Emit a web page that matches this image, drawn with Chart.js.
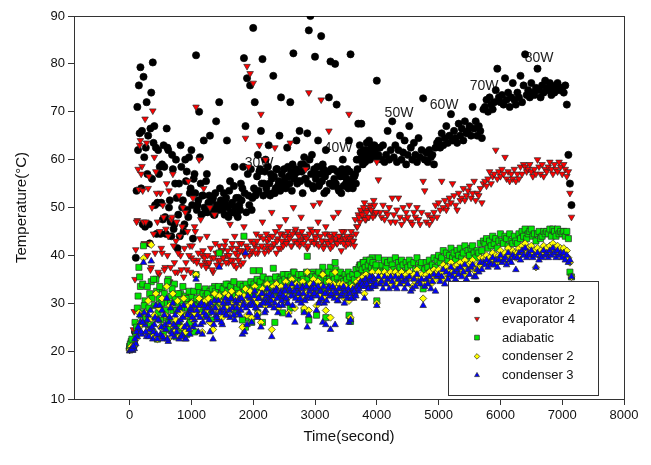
<!DOCTYPE html>
<html>
<head>
<meta charset="utf-8">
<script src="https://cdn.jsdelivr.net/npm/chart.js@4.4.0/dist/chart.umd.min.js"></script>
<style>
  body { margin: 0; background: #fff; }
  #wrap { width: 651px; height: 465px; }
</style>
</head>
<body>
<div id="wrap"><canvas id="tempChart" width="651" height="465"></canvas></div>
<script>
// DATA (one reading every 25 s)
const timeSec = [
  0, 25, 50, 75, 100, 125, 150, 175, 200, 225,
  250, 275, 300, 325, 350, 375, 400, 425, 450, 475,
  500, 525, 550, 575, 600, 625, 650, 675, 700, 725,
  750, 775, 800, 825, 850, 875, 900, 925, 950, 975,
  1000, 1025, 1050, 1075, 1100, 1125, 1150, 1175, 1200, 1225,
  1250, 1275, 1300, 1325, 1350, 1375, 1400, 1425, 1450, 1475,
  1500, 1525, 1550, 1575, 1600, 1625, 1650, 1675, 1700, 1725,
  1750, 1775, 1800, 1825, 1850, 1875, 1900, 1925, 1950, 1975,
  2000, 2025, 2050, 2075, 2100, 2125, 2150, 2175, 2200, 2225,
  2250, 2275, 2300, 2325, 2350, 2375, 2400, 2425, 2450, 2475,
  2500, 2525, 2550, 2575, 2600, 2625, 2650, 2675, 2700, 2725,
  2750, 2775, 2800, 2825, 2850, 2875, 2900, 2925, 2950, 2975,
  3000, 3025, 3050, 3075, 3100, 3125, 3150, 3175, 3200, 3225,
  3250, 3275, 3300, 3325, 3350, 3375, 3400, 3425, 3450, 3475,
  3500, 3525, 3550, 3575, 3600, 3625, 3650, 3675, 3700, 3725,
  3750, 3775, 3800, 3825, 3850, 3875, 3900, 3925, 3950, 3975,
  4000, 4025, 4050, 4075, 4100, 4125, 4150, 4175, 4200, 4225,
  4250, 4275, 4300, 4325, 4350, 4375, 4400, 4425, 4450, 4475,
  4500, 4525, 4550, 4575, 4600, 4625, 4650, 4675, 4700, 4725,
  4750, 4775, 4800, 4825, 4850, 4875, 4900, 4925, 4950, 4975,
  5000, 5025, 5050, 5075, 5100, 5125, 5150, 5175, 5200, 5225,
  5250, 5275, 5300, 5325, 5350, 5375, 5400, 5425, 5450, 5475,
  5500, 5525, 5550, 5575, 5600, 5625, 5650, 5675, 5700, 5725,
  5750, 5775, 5800, 5825, 5850, 5875, 5900, 5925, 5950, 5975,
  6000, 6025, 6050, 6075, 6100, 6125, 6150, 6175, 6200, 6225,
  6250, 6275, 6300, 6325, 6350, 6375, 6400, 6425, 6450, 6475,
  6500, 6525, 6550, 6575, 6600, 6625, 6650, 6675, 6700, 6725,
  6750, 6775, 6800, 6825, 6850, 6875, 6900, 6925, 6950, 6975,
  7000, 7025, 7050, 7075, 7100, 7125, 7150
];

// extra readings in the noisy first hour (between the 25 s marks)
const timeSecB = [
  12, 37, 62, 87, 112, 137, 162, 187, 212, 237,
  262, 287, 312, 337, 362, 387, 412, 437, 462, 487,
  512, 537, 562, 587, 612, 637, 662, 687, 712, 737,
  762, 787, 812, 837, 862, 887, 912, 937, 962, 987,
  1012, 1037, 1062, 1087, 1112, 1137, 1162, 1187, 1212, 1237,
  1262, 1287, 1312, 1337, 1362, 1387, 1412, 1437, 1462, 1487,
  1512, 1537, 1562, 1587, 1612, 1637, 1662, 1687, 1712, 1737,
  1762, 1787, 1812, 1837, 1862, 1887, 1912, 1937, 1962, 1987,
  2012, 2037, 2062, 2087, 2112, 2137, 2162, 2187, 2212, 2237,
  2262, 2287, 2312, 2337, 2362, 2387, 2412, 2437, 2462, 2487,
  2512, 2537, 2562, 2587, 2612, 2637, 2662, 2687, 2712, 2737,
  2762, 2787, 2812, 2837, 2862, 2887, 2912, 2937, 2962, 2987,
  3012, 3037, 3062, 3087, 3112, 3137, 3162, 3187, 3212, 3237,
  3262, 3287, 3312, 3337, 3362, 3387, 3412, 3437, 3462, 3487,
  3512, 3537, 3562, 3587, 3612, 3637, 3662, 3687, 3712, 3737,
  3762, 3787, 3812, 3837, 3862, 3887, 3912, 3937, 3962, 3987
];

const evaporator2 = [
  20.5, 21.2, 20.8, 21.5, 39.5, 71, 75.5, 79.3, 66, 77.3,
  46, 72, 65, 42.5, 74, 80.3, 67, 62.5, 51, 57,
  44.5, 59, 63, 48, 66.5, 62, 51.5, 44, 58, 46.5,
  60, 41.5, 55, 63, 50, 45, 60, 57.5, 48, 53,
  62, 43.5, 57, 81.8, 50.5, 70, 55, 52.5, 64, 49,
  57, 51, 65, 49.5, 52, 48.5, 68, 50, 72, 51.5,
  49.5, 53, 51, 64, 48, 55.5, 50.5, 49, 58.5, 52,
  48, 50.5, 55, 54, 81.2, 67, 77, 52.5, 75.5, 49.5,
  87.5, 72, 53, 61, 57.5, 66, 81, 55, 60, 53,
  63, 52.5, 56, 77.5, 53, 58, 54.5, 65, 73, 55,
  58, 54, 62.5, 56.5, 72, 53.5, 82.2, 57, 64, 55.5,
  66, 59, 53, 60.5, 56, 65.5, 87, 90, 61, 54,
  81.5, 57, 64, 55, 85.8, 59, 53, 62, 57.5, 73,
  80.5, 55, 58, 80, 71.5, 54, 57, 53, 60, 56.5,
  55, 58, 64, 82, 54.5, 56.5, 57, 60, 67.5, 63,
  67.5, 59, 61, 62, 60, 64, 61.5, 63, 60.5, 62,
  76.5, 61, 62.5, 60, 63, 59.5, 61, 66, 60, 62,
  68, 60.5, 63, 59.5, 62, 65, 60, 61.5, 64, 59,
  61, 67, 62.5, 60, 63.5, 61, 59.5, 64.5, 60.5, 62,
  72.8, 60, 61.5, 59.5, 62, 60.5, 61, 59, 62.5, 63.5,
  64, 62.5, 65.5, 63, 64.5, 67, 63.5, 65, 69.5, 64,
  66, 64.5, 63.5, 67.5, 65, 66.5, 64, 68, 65.5, 66,
  67, 65, 71, 66.5, 68, 65, 67, 66, 64.5, 70.5,
  71, 72.5, 70, 73, 71.5, 70.5, 72, 74.5, 79, 73,
  72, 73.5, 71.5, 77, 72.5, 74, 71, 73, 76, 72.5,
  71.5, 74, 73, 77.5, 72, 75.5, 82, 73.5, 74.5, 73,
  76, 74, 73.5, 75, 79, 74.5, 73, 75.5, 74, 76.5,
  75, 74.5, 76, 73.5, 75, 74, 75.5, 76, 74.5, 75,
  75, 74, 75.5, 71.5, 61, 55, 50.5
];
const evaporator2B = [
  21, 20.6, 20.9, 24, 53.5, 62, 65.5, 54, 46.5, 60.5,
  62.5, 57, 46.5, 66.5, 56, 63.5, 50.5, 44.5, 62, 58.5,
  51, 47.5, 58.5, 44.5, 62.5, 50, 47, 61, 45.5, 55,
  52, 48.5, 44, 58.5, 51.5, 46.5, 55.5, 49.5, 60.5, 54,
  50.5, 56, 53, 49.5, 51.5, 60.5, 48.5, 52.5, 50, 55.5,
  49, 52.5, 50, 51.5, 48.5, 53, 50.5, 49.5, 54, 51,
  50.5, 48.5, 52, 50, 53.5, 49, 51, 54.5, 50, 48.5,
  52, 49.5, 51.5, 58.5, 53, 49, 57, 50.5, 58, 52,
  54, 52.5, 56.5, 53.5, 58, 55, 52.5, 57.5, 54, 58.5,
  55, 57, 53, 56.5, 54, 58, 55.5, 53.5, 57, 54.5,
  56, 54.5, 58.5, 55, 57.5, 59, 56, 58, 55, 57.5,
  55.5, 57.5, 59, 56, 58.5, 55, 60, 57, 54.5, 58,
  56, 58.5, 54.5, 57, 55.5, 58, 56.5, 53.5, 57.5, 55,
  58, 54.5, 56, 55, 57.5, 53.5, 56.5, 58, 54.5, 57,
  56, 54, 57.5, 55.5, 54, 56.5, 55, 58, 60, 61.5,
  60.5, 62, 59.5, 63.5, 61, 60, 62.5, 61.5, 63, 60.5
];

const evaporator4 = [
  20.3, 20.8, 21, 28.3, 41.2, 47.3, 53.8, 64, 58.6, 47,
  68.5, 63.5, 54, 42.5, 37.5, 70.2, 60.5, 57.5, 47, 36,
  53, 40.5, 48, 37.5, 55, 44, 34.5, 47.5, 57, 38.5,
  43, 36.5, 52.5, 40, 46, 35.5, 49, 37, 55.5, 42,
  39.5, 52, 46, 71, 39, 60, 47.5, 40, 54, 38.5,
  44, 38, 50, 39.5, 36.5, 48.5, 40.5, 39, 42, 38,
  41, 39.5, 43, 40, 38.5, 46.5, 41.5, 39, 44, 37.5,
  40, 42.5, 38, 41, 46, 64.5, 79.5, 58.5, 78, 40.5,
  76, 42, 44.5, 40.5, 63, 69.5, 47, 41.5, 60, 43,
  41, 44, 49, 42, 62.5, 40.5, 43.5, 46, 41.5, 44.5,
  42.5, 47.5, 43, 44, 63.5, 42, 50, 45, 43, 44.5,
  42, 48, 43.5, 44, 58, 41.5, 74, 45.5, 43, 50.5,
  44, 42.5, 47, 51, 72.5, 43, 42, 46, 44.5, 66,
  41.5, 44, 48, 43, 42.5, 49, 44, 41, 43.5, 45,
  42, 43.5, 69.5, 42.5, 44, 43, 47.5, 46, 48.5, 47,
  49, 48, 51, 47.5, 49.5, 48, 50.5, 49, 51.5, 48.5,
  59.5, 55.8, 49, 48, 50.5, 47.5, 49, 48.5, 50, 47,
  52, 48.5, 47, 49.5, 52, 48, 46.5, 50, 47.5, 49,
  48, 50.5, 47, 46.5, 49, 48, 50, 47.5, 46.5, 49,
  55.5, 53.5, 47, 48.5, 46.5, 48, 47.5, 49, 50.5, 48,
  51, 49.5, 55.5, 50, 51.5, 49.5, 50.5, 52, 51, 55,
  52.5, 50.5, 49.5, 53, 51.5, 52, 54, 51.5, 52.5, 53.5,
  54.5, 52, 53, 55.5, 51.5, 53, 52.5, 54, 51, 55,
  55.5, 54.5, 56, 57.5, 55, 56.5, 57, 62, 56, 57.5,
  56.5, 58, 57, 60.5, 56, 57.5, 55.5, 57, 56, 58,
  55.5, 57, 56, 58.5, 57, 59, 58.5, 57.5, 58, 59,
  57.5, 56.5, 58, 57, 60, 58.5, 57, 59, 56.5, 58,
  57.5, 58.5, 59.5, 58, 57, 59, 58, 57.5, 59.5, 58.5,
  57, 59, 58, 56.5, 57.5, 53, 48
];
const evaporator4B = [
  20.6, 21.2, 24.5, 35, 47, 58, 63, 57, 53.5, 42.5,
  47, 40, 56.5, 37, 50, 44.5, 40.5, 53, 36.5, 45,
  41.5, 50.5, 37, 45.5, 40, 53.5, 37.5, 48, 42, 36.5,
  47, 40.5, 44, 37, 50, 41.5, 38.5, 45, 40, 36.5,
  42, 39, 45, 38.5, 40.5, 43.5, 38, 41, 39.5, 37.5,
  40, 38.5, 41.5, 37, 39.5, 42.5, 38, 40.5, 39, 41,
  39.5, 42, 38.5, 41, 40, 39, 42.5, 38, 40.5, 41.5,
  39, 41, 42.5, 38.5, 40, 42, 41.5, 40, 43, 41,
  42.5, 40.5, 43, 41.5, 44, 42, 43.5, 40.5, 44.5, 42,
  43.5, 41.5, 44, 42.5, 45, 43, 41.5, 44.5, 43, 42,
  44, 42.5, 45, 43.5, 42, 44.5, 43, 45.5, 42.5, 44,
  43, 45, 42.5, 44, 43.5, 42, 44.5, 43, 45, 42.5,
  43.5, 45, 42, 44, 43, 41.5, 44.5, 43, 42.5, 44,
  43, 42, 44.5, 43.5, 42.5, 44, 43, 45, 42.5, 43.5,
  44, 42.5, 43.5, 45, 43, 42, 44.5, 46, 48, 49.5,
  48.5, 50, 47.5, 49, 48, 50, 49.5, 48, 50.5, 49
];

const adiabatic = [
  21, 22, 20.5, 21.5, 23.5, 29, 37.5, 33.5, 28, 42,
  30.5, 27, 25.5, 32, 34.5, 24, 29.5, 35, 22.5, 31,
  26.5, 33, 23.5, 30, 27, 35, 24.5, 31.5, 28.5, 34,
  23, 30, 26, 32, 24.5, 29, 31.5, 23.5, 30.5, 27,
  31.5, 28.5, 24, 36, 30, 32.5, 29, 27.5, 31, 33,
  30, 28, 32.5, 26.5, 31, 33.5, 29.5, 30, 40.5, 32,
  31, 33.5, 29.5, 32, 34, 30.5, 33, 31.5, 28.5, 32.5,
  30, 33.5, 31, 26.5, 44, 25, 32, 27, 33.5, 26,
  36.8, 31.5, 34, 28, 36.8, 32.5, 26, 34.5, 31, 33,
  35, 32, 33.5, 37.3, 26, 34, 31.5, 35.5, 33, 28,
  34, 36, 32.5, 35.5, 29, 34.5, 36.5, 33, 35, 32,
  35.5, 33.5, 36, 28.5, 34, 39.8, 26.5, 35, 33, 36.5,
  34.5, 27.5, 36, 33, 35, 37.5, 32.5, 27, 34.5, 36,
  37.5, 33.5, 35.5, 38.5, 34, 32.5, 36, 34.5, 35, 33,
  35.5, 34, 27.5, 26.2, 36, 34.5, 35, 37, 36.5, 38,
  37.5, 38.5, 36.5, 39, 37, 38, 36.5, 39.5, 38, 37,
  30.5, 39.5, 37.5, 38, 36.5, 39, 37.5, 38.5, 36, 39,
  38, 37, 39.5, 36.5, 38.5, 37.5, 39, 38, 36.5, 38.5,
  37.5, 39, 38, 36, 38.5, 37, 39.5, 38, 37.5, 38.5,
  33, 37, 38.5, 37.5, 39, 36.5, 38, 39.5, 37.5, 39,
  40, 38.5, 39.5, 41, 38, 40.5, 39, 40, 41.5, 39.5,
  40.5, 39, 41, 40, 41.5, 39.5, 40.5, 42, 39, 41,
  40, 41.5, 42, 40.5, 39.5, 41, 40.5, 42.5, 41, 43,
  42.5, 43.5, 41.5, 43, 42, 44, 42.5, 43.5, 41.5, 43,
  44.5, 43, 42.5, 44, 43.5, 42, 44.5, 43, 42.5, 44,
  43, 42.5, 44.5, 43.5, 45, 44, 45.5, 43.5, 44.5, 45,
  45.5, 44, 44.5, 43, 44.5, 45, 43.5, 44, 45, 44.5,
  45, 44.5, 45.5, 44, 45.5, 45, 44, 45.5, 44.5, 45,
  44.5, 45, 44, 45, 43.5, 36.5, 35.5
];
const adiabaticB = [
  21.5, 22.5, 21, 26, 25, 31.5, 35.5, 27.5, 34, 29.5,
  27, 33.5, 29, 25.5, 31, 35, 27, 32.5, 28, 33.5,
  30, 25, 32, 28.5, 34.5, 26.5, 30, 33, 25.5, 31,
  28.5, 32, 25, 30.5, 33.5, 27.5, 31, 29, 32.5, 26,
  30, 32.5, 29.5, 31, 33.5, 30.5, 28, 32, 30, 31.5,
  32, 29.5, 31, 33, 30, 32.5, 31.5, 33.5, 30.5, 32,
  33, 31.5, 34, 32.5, 30.5, 33.5, 32, 34.5, 31.5, 33,
  32, 34, 31.5, 33.5, 32.5, 34, 33, 31.5, 34.5, 33,
  34, 32.5, 35, 33.5, 34.5, 32, 35.5, 33.5, 34, 35,
  33.5, 35, 34, 32.5, 35.5, 34, 33, 35, 34.5, 36,
  35, 33.5, 36, 34.5, 35.5, 33, 36.5, 35, 34, 36,
  34.5, 36, 35, 33.5, 36.5, 35, 34, 36, 35.5, 34,
  35.5, 34, 36.5, 35, 33.5, 36, 35, 34.5, 36.5, 35,
  34.5, 36, 35, 37, 35.5, 34, 36.5, 35, 34.5, 36,
  35, 36.5, 35.5, 34, 36, 35, 37, 36, 37.5, 38,
  37, 38.5, 37.5, 36.5, 38, 39, 37.5, 38.5, 37, 38
];

const condenser2 = [
  20.2, 21, 20.6, 21.2, 22.5, 24, 28, 26, 25.5, 39.4,
  28, 24, 30.5, 26.5, 42.2, 23, 27.5, 32, 22.5, 29,
  25, 31, 23, 27.5, 33.5, 22.5, 29.5, 25.5, 32, 24,
  26.5, 30.5, 23, 28, 25, 31, 24, 27.5, 29.5, 24.5,
  30, 26.5, 28, 36, 29, 31, 27.5, 24, 29.5, 30.5,
  28.5, 31, 26, 30, 24.5, 32, 29, 28, 31.5, 30,
  27, 30.5, 32, 29, 31.5, 28.5, 32.5, 30, 27.5, 31,
  29.5, 32, 30, 25, 31.5, 33, 27.5, 30.5, 32.5, 27,
  31, 33.5, 30, 28, 32, 26, 33, 31.5, 29.5, 34,
  32, 30.5, 24.5, 33.5, 31, 34, 29, 32.5, 33.5, 30.5,
  32, 34.5, 31, 28, 33.5, 35, 32.5, 29, 34, 31.5,
  33, 31, 34.5, 29, 32, 36.5, 28.5, 34, 32.5, 35,
  33, 29.5, 34.5, 31.5, 33.5, 36, 31, 28.5, 33, 34.5,
  27, 32.5, 34, 36.5, 33, 31.5, 34, 32.5, 34, 31,
  33.5, 32, 30.5, 27, 33.5, 32, 33, 34.5, 33.5, 35,
  34.5, 35.5, 32, 36, 34.5, 35.5, 34, 36.5, 35, 34.5,
  30, 36.5, 35, 35.5, 34, 36.5, 35, 36, 34, 36.5,
  35.5, 34.5, 36.5, 34, 36, 35, 36.5, 35.5, 34, 36,
  35, 36.5, 35.5, 33.5, 36, 34.5, 37, 35.5, 35, 36,
  31, 34.5, 36, 35, 36.5, 34, 35.5, 37, 35, 36.5,
  37, 35.5, 36.5, 38, 35, 37.5, 36, 37, 38.5, 36.5,
  37.5, 36, 38, 37, 38.5, 36.5, 37.5, 39, 36, 38,
  37, 38.5, 39, 37.5, 36.5, 38, 37.5, 39.5, 38, 39.5,
  39, 40, 38.5, 39.5, 39, 40.5, 39, 40, 38.5, 40,
  41, 39.5, 40, 40.5, 39, 41.5, 40, 39.5, 41, 40.5,
  39.5, 40.5, 41.5, 40, 42, 41, 42.5, 40.5, 41.5, 41,
  42, 40.5, 41, 37.5, 41.5, 40, 41, 40.5, 42, 41,
  41.5, 40.5, 42, 41, 42.5, 41.5, 40.5, 42, 41, 41.5,
  40.5, 41.5, 40, 41, 39.5, 38.5, 35.5
];

const condenser3 = [
  20, 20.3, 20.1, 20.5, 21.5, 23, 24.5, 26, 23.5, 38.5,
  25.5, 23, 27.5, 24.5, 38.8, 22.5, 25.5, 29.5, 22.5, 26.5,
  23.5, 28.5, 22.5, 25.5, 31, 22, 27, 24, 30, 23,
  25, 28.5, 22.5, 26.5, 23.5, 29.5, 22.5, 25.5, 28, 23.5,
  28.5, 25, 26.5, 35, 27.5, 29.5, 25.5, 23.5, 28, 29,
  27, 29.5, 24, 28.5, 22.5, 30.5, 27.5, 26.5, 37.5, 28.5,
  25.5, 29, 31, 27.5, 30, 27, 31, 29, 26.5, 30,
  28, 31, 28.5, 23.5, 30, 40.5, 25.5, 29.5, 31, 26,
  30, 32.5, 29, 27, 31, 25, 32, 30.5, 28.5, 33,
  31, 29.5, 23, 32.5, 30, 33, 28, 31.5, 32.5, 29.5,
  31, 33.5, 30, 27.5, 32.5, 34, 31.5, 26, 33, 30.5,
  32, 30, 33.5, 28, 31, 25, 27.5, 33, 31.5, 34,
  32, 28.5, 33.5, 30.5, 32.5, 26, 30, 25.5, 32, 33.5,
  24.5, 31.5, 33, 25.5, 32, 30.5, 33, 31.5, 33, 30,
  32.5, 31, 26, 26.5, 32.5, 31, 32, 33.5, 32.5, 34,
  33.5, 34.5, 31, 35, 33.5, 34.5, 33, 35.5, 34, 33.5,
  29.5, 35.5, 34, 34.5, 33, 35.5, 34, 35, 33, 35.5,
  34.5, 33.5, 35.5, 33, 35, 34, 35.5, 34.5, 33, 35,
  34, 35.5, 32.5, 33, 35, 33.5, 36, 34.5, 34, 35,
  29.5, 33.5, 35, 34, 35.5, 33, 34.5, 36, 32.5, 35.5,
  36, 34.5, 35.5, 37, 34, 36.5, 35, 36, 37.5, 35.5,
  36.5, 35, 37, 36, 37.5, 35.5, 36.5, 38, 35, 37,
  36, 37.5, 38, 35.5, 35.5, 37, 36.5, 38.5, 37, 38.5,
  38, 39, 37.5, 38.5, 38, 39.5, 38, 39, 37.5, 39,
  40, 38.5, 39, 39.5, 38, 40.5, 39, 38.5, 40, 39.5,
  37, 39.5, 40.5, 39, 41, 40, 41.5, 39.5, 40.5, 40,
  41, 39.5, 40, 37.5, 40.5, 39, 40, 39.5, 41, 40,
  40.5, 39.5, 41, 40, 41.5, 40.5, 39.5, 41, 40, 40.5,
  39.5, 40.5, 39, 40, 38.5, 39, 35.5
];
const condenser3B = [
  20.2, 20.4, 21, 22.5, 24, 25, 27.5, 24, 26, 28,
  24, 26.5, 23, 28.5, 25, 24, 27, 23.5, 26.5, 29.5,
  25, 23, 27.5, 24.5, 22.5, 26, 29, 23.5, 25.5, 27.5,
  24, 26, 29, 23, 27, 25, 22.5, 27.5, 24.5, 29,
  27, 29.5, 25.5, 28.5, 24, 27, 30, 26, 29.5, 27.5,
  29, 26.5, 30, 28, 25.5, 29, 27, 30.5, 28, 26,
  30, 28, 27.5, 30.5, 28.5, 31, 29, 27.5, 30.5, 29,
  30.5, 27.5, 31, 29.5, 24, 29, 31.5, 28, 30, 29.5,
  31.5, 29, 27.5, 31, 29.5, 32, 30, 28, 31.5, 30,
  32, 30.5, 31.5, 29, 32.5, 31, 29.5, 32, 30.5, 31.5,
  32.5, 31, 30, 33, 31.5, 29.5, 32.5, 31, 33.5, 32,
  31, 33, 32, 30.5, 33.5, 31.5, 32.5, 31, 33, 32,
  33, 31.5, 30, 32.5, 31, 33.5, 32, 30.5, 33, 31.5,
  32, 33.5, 31, 32.5, 30.5, 33, 31.5, 32, 33.5, 32.5,
  31.5, 33, 32, 31, 33, 32.5, 31.5, 33.5, 33, 34.5,
  34, 33.5, 35, 34, 33, 35.5, 34.5, 33.5, 35, 34
];

const seriesNames = ["evaporator 2", "evaporator 4", "adiabatic", "condenser 2", "condenser 3"];
const xTicks = [0, 1000, 2000, 3000, 4000, 5000, 6000, 7000, 8000];
const yTicks = [10, 20, 30, 40, 50, 60, 70, 80, 90];

// heating power notes, placed in data units
const powerLabels = ["30W", "40W", "50W", "60W", "70W", "80W"];
const powerTime = [2095, 3373, 4359, 5089, 5736, 6626];
const powerTemp = [59.3, 62.4, 69.7, 71.4, 75.4, 81.2];

[evaporator2, evaporator4, adiabatic, condenser2, condenser3].forEach((s, i) => {
  if (s.length !== timeSec.length) {
    throw new Error(seriesNames[i] + " has " + s.length + " values, expected " + timeSec.length);
  }
});
[evaporator2B, evaporator4B, adiabaticB, condenser3B].forEach((s, i) => {
  if (s.length !== timeSecB.length) {
    throw new Error("extra set " + i + " has " + s.length + " values, expected " + timeSecB.length);
  }
});

function toPoints(times, values) {
  return times.map((t, i) => ({ x: t, y: values[i] }));
}

const FONT = "'Liberation Sans', Arial, Helvetica, sans-serif";
Chart.defaults.font.family = FONT;
Chart.defaults.color = "#111";

// frame + power labels, under the points
const framePlugin = {
  id: "framePlugin",
  beforeDatasetsDraw(chart) {
    const { ctx, chartArea: a, scales } = chart;
    ctx.save();
    ctx.strokeStyle = "#333";
    ctx.lineWidth = 1;
    ctx.strokeRect(a.left + 0.5, a.top + 0.5, a.right - a.left, a.bottom - a.top);

    ctx.font = "14px " + FONT;
    ctx.fillStyle = "#222";
    ctx.textAlign = "center";
    ctx.textBaseline = "middle";
    powerLabels.forEach((lab, i) => {
      ctx.fillText(lab, scales.x.getPixelForValue(powerTime[i]), scales.y.getPixelForValue(powerTemp[i]));
    });
    ctx.restore();
  }
};

// boxed legend in the lower right
const boxLegend = {
  id: "boxLegend",
  afterDraw(chart) {
    const ctx = chart.ctx;
    ctx.save();
    ctx.fillStyle = "#fff";
    ctx.fillRect(448, 281, 150, 114);
    ctx.strokeStyle = "#333";
    ctx.lineWidth = 1;
    ctx.strokeRect(448.5, 281.5, 150, 114);

    ctx.font = "13px " + FONT;
    ctx.textBaseline = "middle";
    ctx.textAlign = "left";
    chart.data.datasets.forEach((ds, i) => {
      const y = 300 + i * 18.8;
      ctx.fillStyle = ds.pointBackgroundColor;
      ctx.strokeStyle = ds.pointBorderColor;
      ctx.lineWidth = ds.pointBorderWidth;
      Chart.helpers.drawPoint(ctx, {
        pointStyle: ds.pointStyle,
        rotation: ds.pointRotation || 0,
        radius: ds.pointStyle === "rect" ? 3.4 : 2.8,
        borderWidth: ds.pointBorderWidth
      }, 477, y);
      ctx.fillStyle = "#111";
      ctx.fillText(ds.label, 502, y + 0.5);
    });
    ctx.restore();
  }
};

function makeSet(name, points, style, fill, radius, rotation, order) {
  return {
    label: name,
    data: points,
    pointStyle: style,
    pointRotation: rotation,
    pointRadius: radius,
    pointBackgroundColor: fill,
    pointBorderColor: fill === "#000000" ? "#000000" : "#2a2a2a",
    pointBorderWidth: 0.7,
    showLine: false,
    order: order
  };
}

const ctx = document.getElementById("tempChart").getContext("2d");
const myChart = new Chart(ctx, {
  type: "scatter",
  data: {
    datasets: [
      makeSet(seriesNames[0], toPoints(timeSec, evaporator2).concat(toPoints(timeSecB, evaporator2B)), "circle", "#000000", 3.6, 0, 5),
      makeSet(seriesNames[1], toPoints(timeSec, evaporator4).concat(toPoints(timeSecB, evaporator4B)), "triangle", "#ff0000", 3.8, 180, 4),
      makeSet(seriesNames[2], toPoints(timeSec, adiabatic).concat(toPoints(timeSecB, adiabaticB)), "rect", "#00e600", 4.3, 0, 3),
      makeSet(seriesNames[3], toPoints(timeSec, condenser2), "rectRot", "#ffff00", 3.6, 0, 2),
      makeSet(seriesNames[4], toPoints(timeSec, condenser3).concat(toPoints(timeSecB, condenser3B)), "triangle", "#0000ff", 3.8, 0, 1)
    ]
  },
  options: {
    responsive: false,
    animation: false,
    devicePixelRatio: 1,
    layout: { padding: { left: 0, top: 16, right: 27, bottom: 0 } },
    plugins: {
      legend: { display: false },
      tooltip: { enabled: false }
    },
    scales: {
      x: {
        type: "linear",
        min: -900,
        max: 8000,
        afterBuildTicks: (s) => { s.ticks = xTicks.map((v) => ({ value: v })); },
        afterFit: (s) => { s.height = 66; },
        grid: { drawOnChartArea: false, drawTicks: true, tickLength: 6, color: "#333" },
        border: { color: "#333", width: 1 },
        ticks: { padding: 3, font: { size: 13 }, color: "#111", maxRotation: 0, callback: (v) => String(v) },
        title: { display: true, text: "Time(second)", font: { size: 15 }, color: "#111", padding: { top: 0, bottom: 19 } }
      },
      y: {
        type: "linear",
        min: 10,
        max: 90,
        afterBuildTicks: (s) => { s.ticks = yTicks.map((v) => ({ value: v })); },
        afterFit: (s) => { s.width = 74; },
        grid: { drawOnChartArea: false, drawTicks: true, tickLength: 6, color: "#333" },
        border: { color: "#333", width: 1 },
        ticks: { padding: 3, font: { size: 13 }, color: "#111", callback: (v) => String(v) },
        title: { display: true, text: "Temperature(\u00B0C)", font: { size: 15 }, color: "#111", padding: { top: 13, bottom: 0 } }
      }
    }
  },
  plugins: [framePlugin, boxLegend]
});
</script>
</body>
</html>
